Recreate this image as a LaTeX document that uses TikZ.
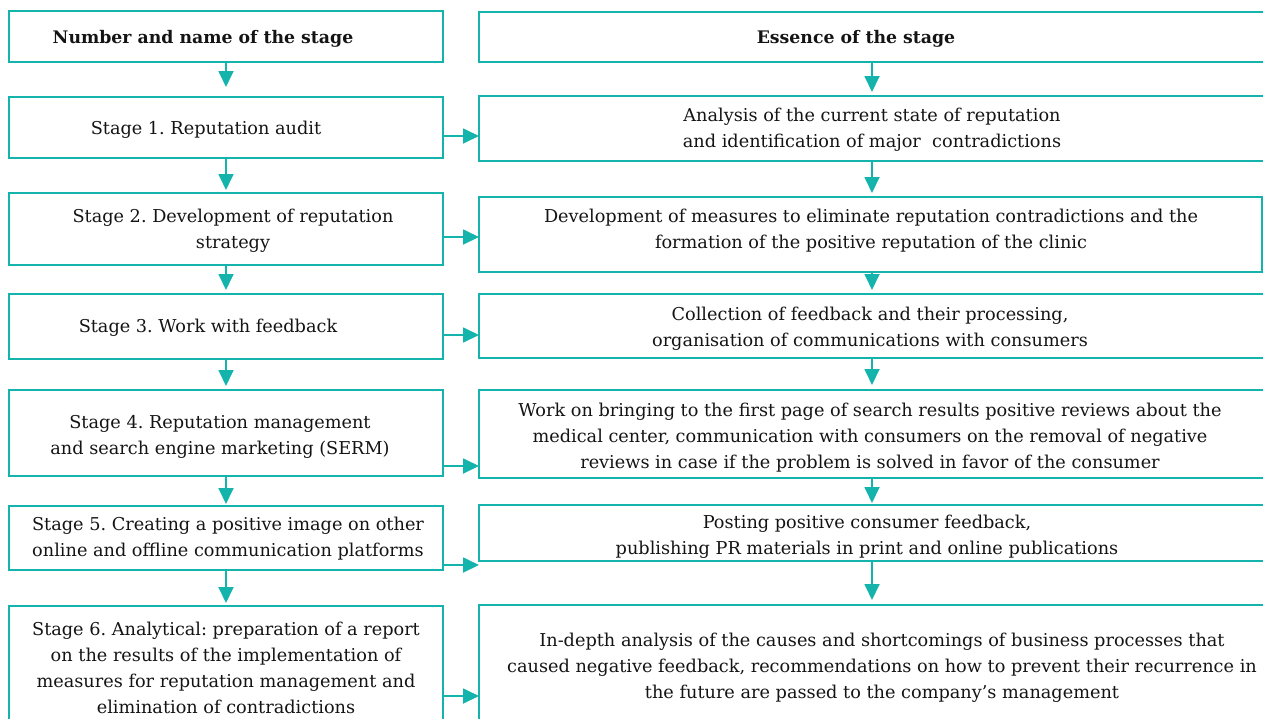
\documentclass[tikz,border=0pt]{standalone}
\usepackage{fontspec}
\setmainfont{DejaVu Serif}
\usetikzlibrary{arrows.meta,calc}
\definecolor{tealline}{RGB}{20,180,172}
\definecolor{txtcol}{RGB}{20,20,20}
\begin{document}
\frenchspacing
\begin{tikzpicture}[x=1pt,y=-1pt,
  box/.style={draw=tealline, line width=1.8pt, anchor=north west, inner sep=0pt, outer sep=0pt},
  txt/.style={align=center, font=\fontsize{17.7}{26}\selectfont, text=txtcol, inner sep=0pt},
  hdr/.style={txt, font=\fontsize{17.3}{26}\selectfont\bfseries},
  arr/.style={draw=tealline, line width=1.8pt, -{Triangle[length=16pt,width=15pt]}}]
\useasboundingbox (0,0) rectangle (1263,718);
\clip (0,0) rectangle (1263,718);
% left boxes
\node[box, minimum width=434pt, minimum height=51pt] (L0) at (9,11) {};
\node[box, minimum width=434pt, minimum height=61pt] (L1) at (9,97) {};
\node[box, minimum width=434pt, minimum height=72pt] (L2) at (9,193) {};
\node[box, minimum width=434pt, minimum height=65pt] (L3) at (9,294) {};
\node[box, minimum width=434pt, minimum height=86pt] (L4) at (9,390) {};
\node[box, minimum width=434pt, minimum height=64pt] (L5) at (9,506) {};
\node[box, minimum width=434pt, minimum height=134pt] (L6) at (9,606) {};
% right boxes
\node[box, minimum width=786pt, minimum height=50pt] (R0) at (479,12) {};
\node[box, minimum width=786pt, minimum height=65pt] (R1) at (479,96) {};
\node[box, minimum width=783pt, minimum height=75pt] (R2) at (479,197) {};
\node[box, minimum width=786pt, minimum height=64pt] (R3) at (479,294) {};
\node[box, minimum width=786pt, minimum height=88pt] (R4) at (479,390) {};
\node[box, minimum width=786pt, minimum height=56pt] (R5) at (479,505) {};
\node[box, minimum width=786pt, minimum height=135pt] (R6) at (479,605) {};
% left texts
\node[hdr] (T0) at (203,38.5) {Number and name of the stage};
\node[txt] (T1) at (206,129.5) {Stage 1. Reputation audit};
\node[txt] (T2) at (233,230.5) {Stage 2. Development of reputation\\strategy};
\node[txt] (T3) at (208,327.5) {Stage 3. Work with feedback};
\node[txt] (T4) at (220,436.5) {Stage 4. Reputation management\\and search engine marketing (SERM)};
\node[txt] (T5) at (228,538.5) {Stage 5. Creating a positive image on other\\online and offline communication platforms};
\node[txt] (T6) at (226,667.5) {Stage 6. Analytical: preparation of a report\\on the results of the implementation of\\measures for reputation management and\\elimination of contradictions};
% right texts
\node[hdr] (U0) at (856,38.5) {Essence of the stage};
\node[txt] (U1) at (872,129.5) {Analysis of the current state of reputation\\and identification of major\ \ contradictions};
\node[txt] (U2) at (871,230.5) {Development of measures to eliminate reputation contradictions and the\\formation of the positive reputation of the clinic};
\node[txt] (U3) at (870,328.5) {Collection of feedback and their processing,\\organisation of communications with consumers};
\node[txt] (U4) at (870,437.5) {Work on bringing to the first page of search results positive reviews about the\\medical center, communication with consumers on the removal of negative\\reviews in case if the problem is solved in favor of the consumer};
\node[txt] (U5) at (867,536.5) {Posting positive consumer feedback,\\publishing PR materials in print and online publications};
\node[txt] (U6) at (882,667.5) {In-depth analysis of the causes and shortcomings of business processes that\\caused negative feedback, recommendations on how to prevent their recurrence in\\the future are passed to the company’s management};
% vertical arrows left
\draw[arr, shorten >=10pt] (L0.south) -- (L1.north);
\draw[arr, shorten >=3pt] (L1.south) -- (L2.north);
\draw[arr, shorten >=4pt] (L2.south) -- (L3.north);
\draw[arr, shorten >=4pt] (L3.south) -- (L4.north);
\draw[arr, shorten >=2pt] (L4.south) -- (L5.north);
\draw[arr, shorten >=3pt] (L5.south) -- (L6.north);
% vertical arrows right
\draw[arr, shorten >=4pt] (R0.south) -- (R1.north);
\draw[arr, shorten >=4pt] (R1.south) -- (R2.north -| R1.south);
\draw[arr, shorten >=4pt] (R2.south -| R1.south) -- (R3.north);
\draw[arr, shorten >=5pt] (R3.south) -- (R4.north);
\draw[arr, shorten >=2pt] (R4.south) -- (R5.north);
\draw[arr, shorten >=5pt] (R5.south) -- (R6.north);
% horizontal arrows
\coordinate (h1) at ([yshift=-8.5pt]L1.east);
\coordinate (h2) at ([yshift=-8pt]L2.east);
\coordinate (h3) at ([yshift=-8.5pt]L3.east);
\coordinate (h4) at ([yshift=-33pt]L4.east);
\coordinate (h5) at ([yshift=-27pt]L5.east);
\coordinate (h6) at ([yshift=-23pt]L6.east);
\draw[arr] (h1) -- (h1 -| R1.west);
\draw[arr] (h2) -- (h2 -| R2.west);
\draw[arr] (h3) -- (h3 -| R3.west);
\draw[arr] (h4) -- (h4 -| R4.west);
\draw[arr] (h5) -- (h5 -| R5.west);
\draw[arr] (h6) -- (h6 -| R6.west);
\end{tikzpicture}
\end{document}
